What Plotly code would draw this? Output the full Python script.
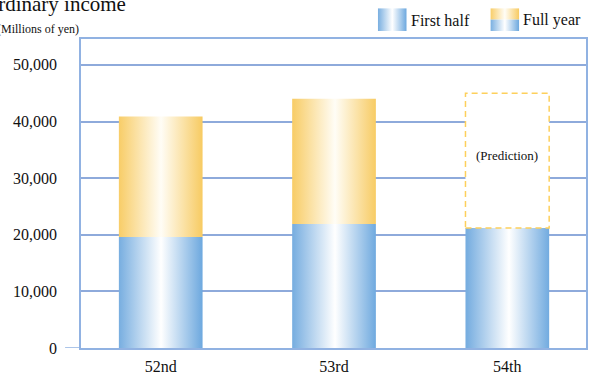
import plotly.graph_objects as go
import base64

# ---- data ----
categories = ["52nd", "53rd", "54th"]
first_half = [19600, 21900, 21200]
full_year = [40900, 44000, None]
prediction_full_year = [None, None, 45000]
y_ticks = [0, 10000, 20000, 30000, 40000, 50000]

# ---- styling ----
FONT = "Liberation Serif, Times New Roman, serif"
BLUE_SCALE = [[0, "#78aee0"], [0.5, "#ffffff"], [1, "#6ba7de"]]
YELLOW_SCALE = [[0, "#f8cd68"], [0.5, "#fffdf6"], [1, "#f7ca60"]]
GRID = "#8eaadb"
AXIS = "#91b2e2"
BAR_W = 0.483

fig = go.Figure()


def add_bar(i, y0, y1, scale, line=None, fillcolor=None):
    xl, xr = i - BAR_W / 2, i + BAR_W / 2
    kw = dict(
        x=[xl, xr, xr, xl, xl],
        y=[y0, y0, y1, y1, y0],
        mode="lines",
        fill="toself",
        showlegend=False,
        hoverinfo="skip",
    )
    if scale is not None:
        kw["fillgradient"] = dict(type="horizontal", colorscale=scale, start=xl, stop=xr)
        kw["line"] = dict(width=0)
    else:
        kw["fillcolor"] = fillcolor
        kw["line"] = line
    fig.add_trace(go.Scatter(**kw))


for i, cat in enumerate(categories):
    add_bar(i, 0, first_half[i], BLUE_SCALE)
    if full_year[i] is not None:
        add_bar(i, first_half[i], full_year[i], YELLOW_SCALE)
    if prediction_full_year[i] is not None:
        add_bar(i, first_half[i], prediction_full_year[i], None,
                line=dict(color="#fdd05c", width=1.5, dash="6px,4px"), fillcolor="#ffffff")
        fig.add_annotation(x=i, y=34000, text="(Prediction)", showarrow=False,
                           font=dict(family=FONT, size=13, color="#111111"))

# geometry helpers (pixel -> paper) for decorations outside plot area
L, R, T, B = 81, 2, 39, 27
W, H = 590, 377
PW, PH = W - L - R, H - T - B


def px(x):
    return (x - L) / PW


def py(y):
    return (H - B - y) / PH


def svg_uri(kind):
    if kind == "blue":
        body = ('<defs><linearGradient id="g" x1="0" x2="1" y1="0" y2="0">'
                '<stop offset="0" stop-color="#78aee0"/><stop offset="0.5" stop-color="#ffffff"/>'
                '<stop offset="1" stop-color="#6ba7de"/></linearGradient></defs>'
                '<rect x="0" y="0" width="29" height="23" fill="url(#g)"/>')
    else:
        body = ('<defs><linearGradient id="g" x1="0" x2="1" y1="0" y2="0">'
                '<stop offset="0" stop-color="#78aee0"/><stop offset="0.5" stop-color="#ffffff"/>'
                '<stop offset="1" stop-color="#6ba7de"/></linearGradient>'
                '<linearGradient id="h" x1="0" x2="1" y1="0" y2="0">'
                '<stop offset="0" stop-color="#f8cd68"/><stop offset="0.5" stop-color="#fffdf6"/>'
                '<stop offset="1" stop-color="#f7ca60"/></linearGradient></defs>'
                '<rect x="0" y="0" width="29" height="11.5" fill="url(#h)"/>'
                '<rect x="0" y="11.5" width="29" height="11.5" fill="url(#g)"/>')
    svg = ('<svg xmlns="http://www.w3.org/2000/svg" width="29" height="23" viewBox="0 0 29 23">'
           + body + '</svg>')
    return "data:image/svg+xml;base64," + base64.b64encode(svg.encode()).decode()


fig.add_layout_image(source=svg_uri("blue"), xref="paper", yref="paper",
                     x=px(379), y=py(8), sizex=29 / PW, sizey=23 / PH,
                     xanchor="left", yanchor="top", sizing="stretch", layer="above")
fig.add_layout_image(source=svg_uri("mix"), xref="paper", yref="paper",
                     x=px(492), y=py(8), sizex=29 / PW, sizey=23 / PH,
                     xanchor="left", yanchor="top", sizing="stretch", layer="above")

fig.add_annotation(xref="paper", yref="paper", x=px(410), y=py(20), text="First half",
                   xanchor="left", yanchor="middle", showarrow=False,
                   font=dict(family=FONT, size=16, color="#111111"))
fig.add_annotation(xref="paper", yref="paper", x=px(523), y=py(20), text="Full year",
                   xanchor="left", yanchor="middle", showarrow=False,
                   font=dict(family=FONT, size=16, color="#111111"))
fig.add_annotation(xref="paper", yref="paper", x=px(81), y=py(29), text="(Millions of yen)",
                   xanchor="right", yanchor="middle", showarrow=False,
                   font=dict(family=FONT, size=12, color="#111111"))
fig.add_annotation(xref="paper", yref="paper", x=px(128), y=py(4), text="Ordinary income",
                   xanchor="right", yanchor="middle", showarrow=False,
                   font=dict(family=FONT, size=21, color="#111111"))

# y tick labels placed with a wide gap from the axis, as in the reference
for v in y_ticks:
    fig.add_annotation(xref="paper", yref="y", x=px(59), y=v, text=f"{v:,}",
                       xanchor="right", yanchor="middle", showarrow=False,
                       font=dict(family=FONT, size=16, color="#111111"))

# zero baseline extension to the left
fig.add_shape(type="line", xref="paper", yref="y", x0=px(65), x1=0, y0=0, y1=0,
              line=dict(color=AXIS, width=1.5))

fig.update_layout(
    width=W, height=H,
    margin=dict(l=L, r=R, t=T, b=B),
    paper_bgcolor="white", plot_bgcolor="white",
    font=dict(family=FONT, size=16, color="#111111"),
    showlegend=False, hovermode=False,
    xaxis=dict(range=[-0.46, 2.454], tickvals=list(range(len(categories))), ticktext=categories,
               showgrid=False, zeroline=False, showline=True, linecolor=AXIS, linewidth=1.5,
               mirror=True, ticks="outside", ticklen=3, tickcolor="rgba(0,0,0,0)",
               tickfont=dict(size=16, family=FONT, color="#111111")),
    yaxis=dict(range=[0, 54570], tickvals=y_ticks, showticklabels=False,
               showgrid=True, gridcolor=GRID, gridwidth=1.5, zeroline=False,
               showline=True, linecolor=AXIS, linewidth=1.5, mirror=True, ticks=""),
)

fig.write_html("out.html")
